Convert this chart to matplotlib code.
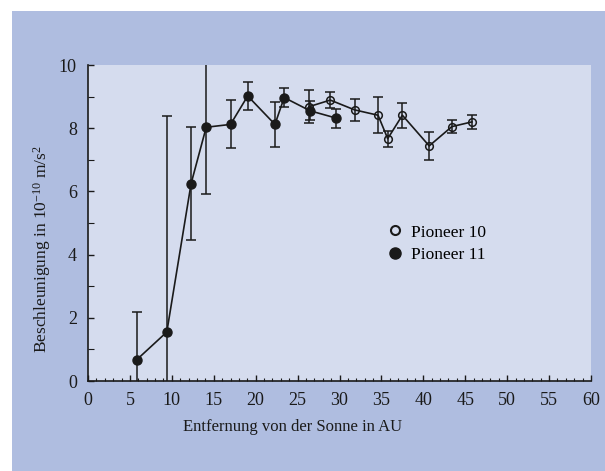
import matplotlib.pyplot as plt
from matplotlib.patches import Rectangle
from matplotlib.lines import Line2D

# Pioneer 11 (gefuellte Kreise)
p11_au = [5.8, 9.4, 12.3, 14.1, 17.0, 19.05, 22.3, 23.4, 26.5, 29.6]
p11_acc = [0.67, 1.55, 6.25, 8.03, 8.12, 9.02, 8.12, 8.97, 8.55, 8.32]
p11_err = [1.5, 6.85, 1.78, 2.1, 0.76, 0.43, 0.7, 0.3, 0.3, 0.3]

# Pioneer 10 (offene Kreise)
p10_au = [26.35, 28.9, 31.8, 34.6, 35.75, 37.5, 40.7, 43.4, 45.8]
p10_acc = [8.68, 8.89, 8.58, 8.41, 7.67, 8.41, 7.44, 8.05, 8.2]
p10_err = [0.52, 0.25, 0.34, 0.57, 0.25, 0.4, 0.45, 0.2, 0.22]

x_ticks = list(range(0, 61, 5))
y_ticks = [0, 2, 4, 6, 8, 10]

outer_bg = "#afbde0"
inner_bg = "#d5dcee"
ink = "#1a1a1a"

plt.rcParams["font.family"] = ["Liberation Serif", "DejaVu Serif"]
plt.rcParams["mathtext.fontset"] = "custom"
plt.rcParams["mathtext.rm"] = "Liberation Serif"
plt.rcParams["mathtext.it"] = "Liberation Serif:italic"

fig = plt.figure(figsize=(6.05, 4.71), dpi=100, facecolor="white")
fig.patches.append(Rectangle((12 / 605, 0), 1, 460 / 471, transform=fig.transFigure,
                             facecolor=outer_bg, edgecolor="none", zorder=-10))

ax = fig.add_axes([88 / 605, 1 - 381 / 471, (591 - 88) / 605, (381 - 65) / 471])
ax.set_facecolor(inner_bg)

ax.errorbar(p11_au, p11_acc, yerr=p11_err, fmt="-o", color=ink, ecolor=ink,
            markersize=6.5, markerfacecolor=ink, markeredgecolor=ink,
            linewidth=1.2, elinewidth=1.1, capsize=3.5, capthick=1.1, zorder=3)
ax.errorbar(p10_au, p10_acc, yerr=p10_err, fmt="-o", color=ink, ecolor=ink,
            markersize=5.5, markerfacecolor="none", markeredgecolor=ink,
            markeredgewidth=1.1, linewidth=1.2, elinewidth=1.1, capsize=3.5,
            capthick=1.1, zorder=3)

ax.set_xlim(0, 60)
ax.set_ylim(0, 10)
ax.set_xticks(x_ticks)
ax.set_xticks(range(0, 61), minor=True)
ax.set_yticks(y_ticks)
ax.set_yticks(range(0, 11), minor=True)
ax.tick_params(direction="in", length=4, width=1, colors=ink, labelsize=13, pad=8)
ax.tick_params(which="minor", direction="in", length=2.5, width=0.8, colors=ink)
ax.tick_params(axis="y", which="minor", length=4)

for side in ["top", "right"]:
    ax.spines[side].set_visible(False)
for side in ["left", "bottom"]:
    ax.spines[side].set_color(ink)
    ax.spines[side].set_linewidth(1.2)

fig.text(293 / 605, 1 - 427 / 471, "Entfernung von der Sonne in AU",
         ha="center", va="center", fontsize=12, color=ink)
fig.text(42 / 605, 1 - 249 / 471, r"Beschleunigung in 10$^{-10}$ m/s$^2$",
         ha="center", va="center", rotation=90, fontsize=12.5, color=ink)

handles = [
    Line2D([], [], linestyle="none", marker="o", markersize=6.5,
           markerfacecolor="none", markeredgecolor=ink, markeredgewidth=1.5),
    Line2D([], [], linestyle="none", marker="o", markersize=8,
           markerfacecolor=ink, markeredgecolor=ink),
]
ax.legend(handles, ["Pioneer 10", "Pioneer 11"], loc="center left",
          bbox_to_anchor=(0.58, 0.435), frameon=False, fontsize=12.5,
          handlelength=0.8, handletextpad=0.5, labelspacing=0.35, borderpad=0)

fig.savefig("out.png", dpi=100, facecolor=fig.get_facecolor())
